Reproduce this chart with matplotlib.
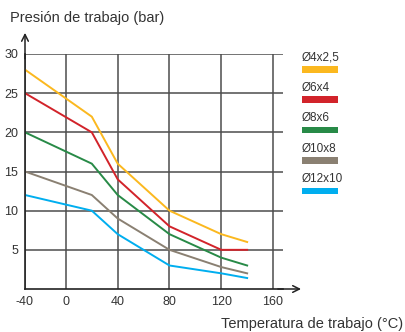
import matplotlib
matplotlib.use('Agg')
import matplotlib.pyplot as plt
import numpy as np
from matplotlib.patches import Rectangle

plt.rcParams['font.family'] = ['Liberation Sans', 'DejaVu Sans']
plt.rcParams['axes.unicode_minus'] = False

# temperature points (°C)
temps = [-40, 20, 40, 80, 120, 140]

# working pressure (bar) per tube size
p_4x25 = [28, 22, 16, 10, 7, 6]
p_6x4 = [25, 20, 14, 8, 5, 5]
p_8x6 = [20, 16, 12, 7, 4, 3]
p_10x8 = [15, 12, 9, 5, 2.8, 2]
p_12x10 = [12, 10, 7, 3, 2, 1.4]

names = ['Ø4x2,5', 'Ø6x4', 'Ø8x6', 'Ø10x8', 'Ø12x10']
colors = ['#fbb81f', '#d2232a', '#288a47', '#8a8072', '#00aeef']
series = [p_4x25, p_6x4, p_8x6, p_10x8, p_12x10]

x_ticks = [-40, 0, 40, 80, 120, 160]
y_ticks = [5, 10, 15, 20, 25, 30]


# the -40..0 span is drawn narrower than the others in the original
def fwd(x):
    x = np.asarray(x, dtype=float)
    return np.where(x < 0, x * 0.79, x)


def inv(x):
    x = np.asarray(x, dtype=float)
    return np.where(x < 0, x / 0.79, x)


fig = plt.figure(figsize=(4.06, 3.32), dpi=100)
ax = fig.add_axes([25 / 406, 1 - 289 / 332, 258 / 406, 235 / 332])
ax.set_xscale('function', functions=(fwd, inv))

for vals, c in zip(series, colors):
    ax.plot(temps, vals, color=c, lw=1.4, solid_joinstyle='miter')

ax.set_xlim(-40, 167.7)
ax.set_ylim(0, 30)
ax.set_xticks(x_ticks)
ax.set_yticks(y_ticks)
ax.xaxis.set_minor_locator(matplotlib.ticker.NullLocator())
ax.tick_params(length=0, labelsize=9, colors='#333333', pad=5)
ax.grid(True, color='#4d4d4d', lw=1.1)
ax.set_axisbelow(True)
for s in ['top', 'right']:
    ax.spines[s].set_visible(False)
for s in ['left', 'bottom']:
    ax.spines[s].set_color('#222222')
    ax.spines[s].set_linewidth(1.2)

# axis arrows
ax.annotate('', xy=(0, 1.09), xycoords='axes fraction', xytext=(0, 0.98),
            arrowprops=dict(arrowstyle='->', color='#222222', lw=1.1,
                            mutation_scale=12, shrinkA=0, shrinkB=0))
ax.annotate('', xy=(1.07, 0), xycoords='axes fraction', xytext=(0.98, 0),
            arrowprops=dict(arrowstyle='->', color='#222222', lw=1.1,
                            mutation_scale=12, shrinkA=0, shrinkB=0))

fig.text(10 / 406, 1 - 18 / 332, 'Presión de trabajo (bar)', fontsize=10.5,
         color='#333333', va='center', ha='left')
fig.text(403 / 406, 1 - 324 / 332, 'Temperatura de trabajo (°C)', fontsize=10.5,
         color='#333333', va='center', ha='right')

# legend: label above a colour bar
for i, (n, c) in enumerate(zip(names, colors)):
    ytxt = 57.5 + i * 30.4
    ybar = 66 + i * 30.4
    fig.text(302 / 406, 1 - ytxt / 332, n, fontsize=8.5, color='#333333',
             va='center', ha='left')
    fig.patches.append(Rectangle((302 / 406, 1 - (ybar + 6.5) / 332),
                                 36 / 406, 6.5 / 332, transform=fig.transFigure,
                                 color=c, lw=0))

fig.savefig('out.png', dpi=100)
plt.close(fig)
